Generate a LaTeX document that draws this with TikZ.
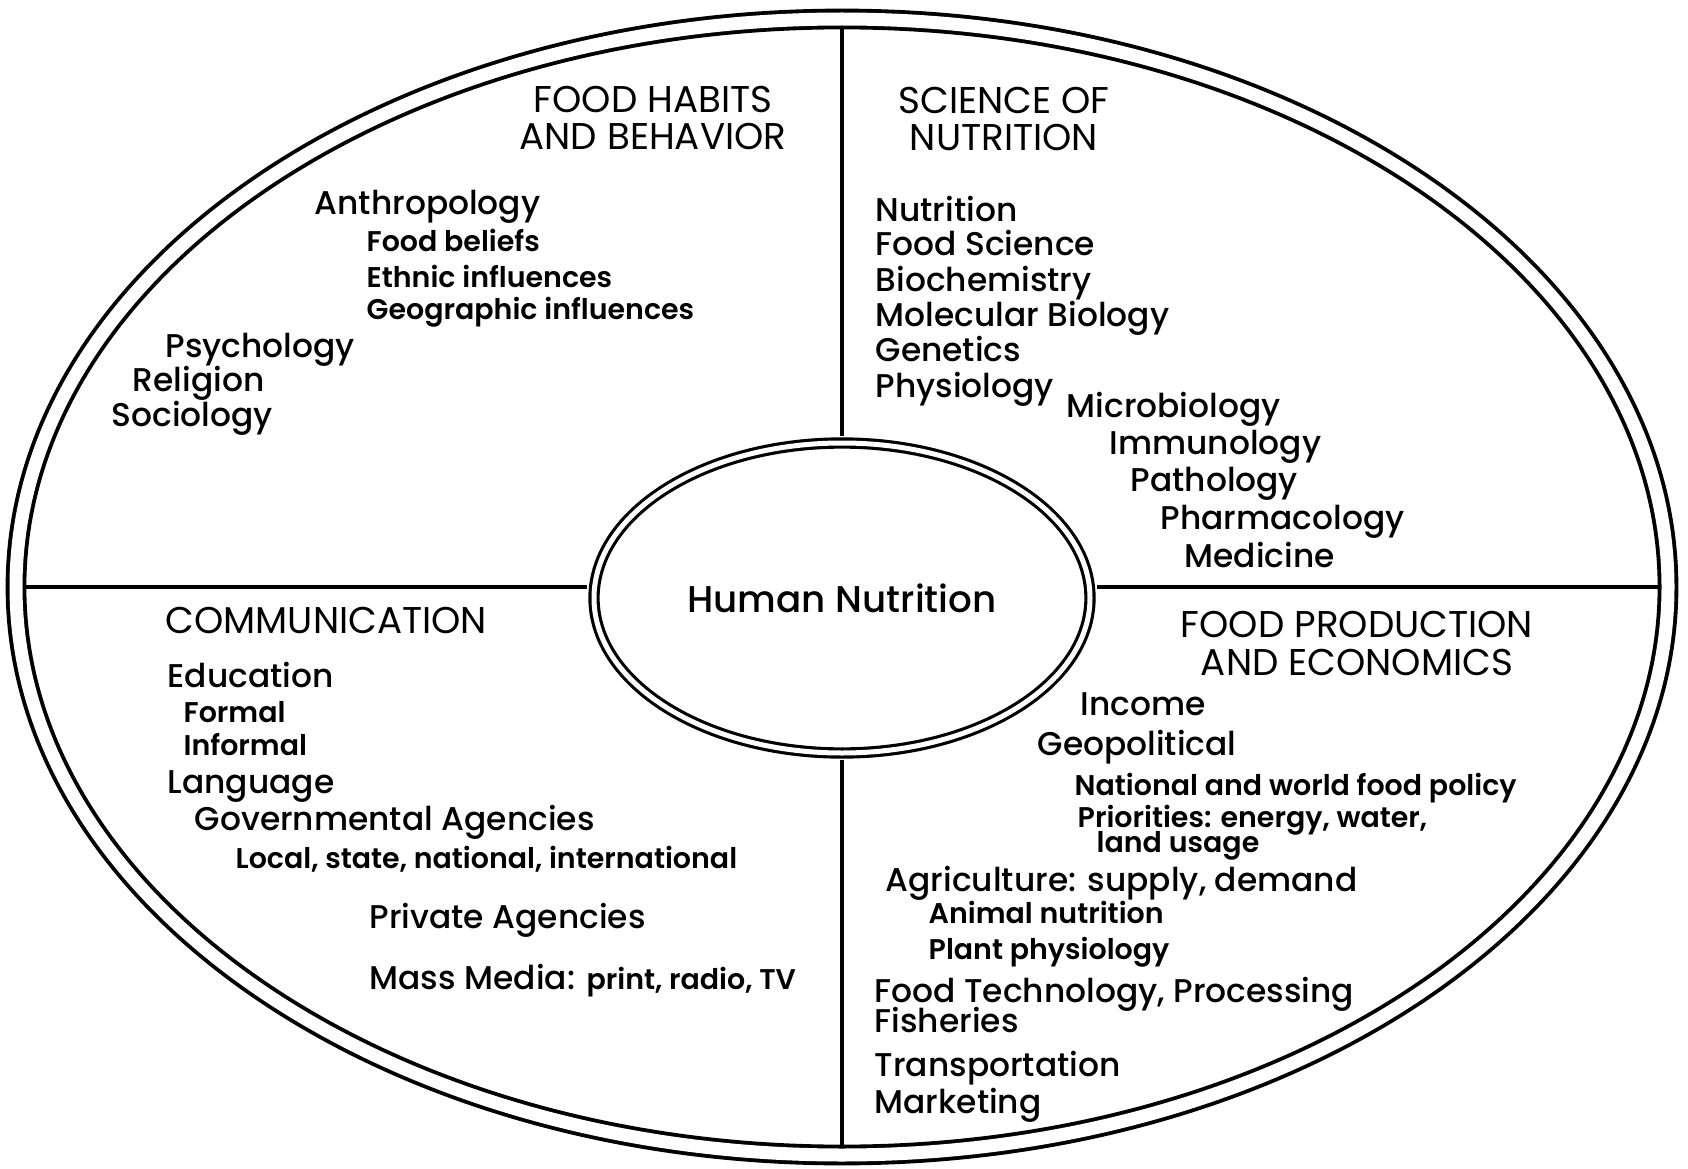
\documentclass[tikz,border=0pt]{standalone}
\usepackage{fontspec}
\setmainfont{Poppins}
\newfontfamily\topicfont{Poppins Medium}
\newfontfamily\subfont{Poppins SemiBold}
\usetikzlibrary{shapes.geometric}

\begin{document}
\begin{tikzpicture}[
        rim/.style={draw, ellipse, line width=1.1pt, double, double distance=0.13cm, inner sep=0pt, minimum width=16.52cm, minimum height=11.36cm},
        hub/.style={draw, ellipse, line width=0.9pt, double, double distance=0.05cm, inner sep=0pt, minimum width=4.96cm, minimum height=3.1cm, font=\fontsize{10.6}{12}\topicfont},
        divider/.style={line width=1.2pt, shorten <=0.05cm, shorten >=0.1cm},
        heading/.style={align=center, inner sep=0pt, font=\fontsize{10.6}{10.8}\selectfont},
        topic/.style={anchor=west, inner sep=0pt, text height=1.5ex, text depth=0.25ex, font=\fontsize{9.35}{10}\topicfont},
        subtopic/.style={topic, font=\fontsize{8.1}{9}\subfont}
    ]

        \fill[white] (0,0) rectangle (16.88,11.68);

        \node[rim] (rim) at (8.42, 5.81) {};
        \node[hub] (hub) at (8.42, 5.70) {Human Nutrition};

        \draw[divider] (hub.north) -- (rim.north);
        \draw[divider] (hub.south) -- (rim.south);
        \draw[divider] (hub.west |- rim.west) -- (rim.west);
        \draw[divider] (hub.east |- rim.east) -- (rim.east);

        % food habits
        \node[heading] (habits) at (6.53, 10.50) {FOOD HABITS\\AND BEHAVIOR};
        \node[topic] (anthro) at (3.14, 9.66) {Anthropology};
        \node[subtopic] (beliefs) at (3.66, 9.29) {Food beliefs};
        \node[subtopic] (ethnic) at (3.66, 8.93) {Ethnic influences};
        \node[subtopic] (geo) at (3.66, 8.61) {Geographic influences};
        \node[topic] (psych) at (1.65, 8.23) {Psychology};
        \node[topic] (relig) at (1.32, 7.89) {Religion};
        \node[topic] (socio) at (1.11, 7.54) {Sociology};

        % science of nutrition
        \node[heading] (science) at (10.04, 10.49) {SCIENCE OF\\NUTRITION};
        \node[topic] (nutr) at (8.75, 9.59) {Nutrition};
        \node[topic] (foodsci) at (8.75, 9.25) {Food Science};
        \node[topic] (biochem) at (8.75, 8.89) {Biochemistry};
        \node[topic] (molbio) at (8.75, 8.54) {Molecular Biology};
        \node[topic] (genet) at (8.75, 8.19) {Genetics};
        \node[topic] (physio) at (8.75, 7.83) {Physiology};
        \node[topic] (micro) at (10.66, 7.63) {Microbiology};
        \node[topic] (immuno) at (11.09, 7.26) {Immunology};
        \node[topic] (patho) at (11.30, 6.89) {Pathology};
        \node[topic] (pharma) at (11.60, 6.51) {Pharmacology};
        \node[topic] (medic) at (11.84, 6.13) {Medicine};

        % communication
        \node[heading, anchor=west] (comm) at (1.65, 5.48) {COMMUNICATION};
        \node[topic] (educ) at (1.67, 4.93) {Education};
        \node[subtopic] (formal) at (1.83, 4.58) {Formal};
        \node[subtopic] (informal) at (1.83, 4.25) {Informal};
        \node[topic] (lang) at (1.67, 3.87) {Language};
        \node[topic] (govt) at (1.94, 3.50) {Governmental Agencies};
        \node[subtopic] (levels) at (2.35, 3.12) {Local, state, national, international};
        \node[topic] (private) at (3.69, 2.52) {Private Agencies};
        \node[topic] (media) at (3.69, 1.91) {Mass Media: {\fontsize{8.1}{9}\subfont print, radio, TV}};

        % food production
        \node[heading] (production) at (13.57, 5.25) {FOOD PRODUCTION\\AND ECONOMICS};
        \node[topic] (income) at (10.80, 4.65) {Income};
        \node[topic] (geopol) at (10.37, 4.25) {Geopolitical};
        \node[subtopic] (policy) at (10.74, 3.85) {National and world food policy};
        \node[subtopic] (prior) at (10.77, 3.53) {Priorities: energy, water,};
        \node[subtopic] (land) at (10.96, 3.28) {land usage};
        \node[topic] (agri) at (8.85, 2.89) {Agriculture: supply, demand};
        \node[subtopic] (animal) at (9.28, 2.57) {Animal nutrition};
        \node[subtopic] (plant) at (9.28, 2.21) {Plant physiology};
        \node[topic] (tech) at (8.74, 1.78) {Food Technology, Processing};
        \node[topic] (fish) at (8.74, 1.48) {Fisheries};
        \node[topic] (transp) at (8.74, 1.04) {Transportation};
        \node[topic] (market) at (8.74, 0.67) {Marketing};
    \end{tikzpicture}
\end{document}
